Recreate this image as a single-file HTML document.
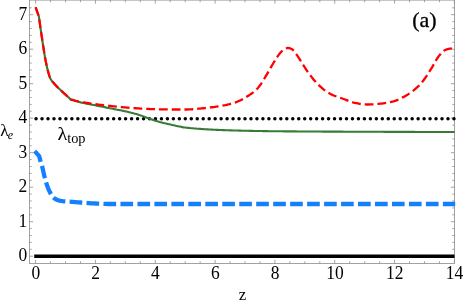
<!DOCTYPE html>
<html><head><meta charset="utf-8"><style>
html,body{margin:0;padding:0;background:#fff;}
svg{display:block;}
text{font-family:"Liberation Serif",serif;fill:#000;}
</style></head><body>
<svg style="will-change:transform" width="463" height="304" viewBox="0 0 463 304">
<rect width="463" height="304" fill="#fff"/>
<g stroke="#8c8c8c" stroke-width="0.8" fill="none">
<rect x="29.5" y="0.1" width="425.0" height="263.4"/>
<path d="M35.60,263.5 v-3.6 M35.60,0.1 v3.6"/>
<path d="M50.56,263.5 v-2.2 M50.56,0.1 v2.2"/>
<path d="M65.51,263.5 v-2.2 M65.51,0.1 v2.2"/>
<path d="M80.47,263.5 v-2.2 M80.47,0.1 v2.2"/>
<path d="M95.43,263.5 v-3.6 M95.43,0.1 v3.6"/>
<path d="M110.39,263.5 v-2.2 M110.39,0.1 v2.2"/>
<path d="M125.34,263.5 v-2.2 M125.34,0.1 v2.2"/>
<path d="M140.30,263.5 v-2.2 M140.30,0.1 v2.2"/>
<path d="M155.26,263.5 v-3.6 M155.26,0.1 v3.6"/>
<path d="M170.21,263.5 v-2.2 M170.21,0.1 v2.2"/>
<path d="M185.17,263.5 v-2.2 M185.17,0.1 v2.2"/>
<path d="M200.13,263.5 v-2.2 M200.13,0.1 v2.2"/>
<path d="M215.09,263.5 v-3.6 M215.09,0.1 v3.6"/>
<path d="M230.04,263.5 v-2.2 M230.04,0.1 v2.2"/>
<path d="M245.00,263.5 v-2.2 M245.00,0.1 v2.2"/>
<path d="M259.96,263.5 v-2.2 M259.96,0.1 v2.2"/>
<path d="M274.91,263.5 v-3.6 M274.91,0.1 v3.6"/>
<path d="M289.87,263.5 v-2.2 M289.87,0.1 v2.2"/>
<path d="M304.83,263.5 v-2.2 M304.83,0.1 v2.2"/>
<path d="M319.79,263.5 v-2.2 M319.79,0.1 v2.2"/>
<path d="M334.74,263.5 v-3.6 M334.74,0.1 v3.6"/>
<path d="M349.70,263.5 v-2.2 M349.70,0.1 v2.2"/>
<path d="M364.66,263.5 v-2.2 M364.66,0.1 v2.2"/>
<path d="M379.61,263.5 v-2.2 M379.61,0.1 v2.2"/>
<path d="M394.57,263.5 v-3.6 M394.57,0.1 v3.6"/>
<path d="M409.53,263.5 v-2.2 M409.53,0.1 v2.2"/>
<path d="M424.49,263.5 v-2.2 M424.49,0.1 v2.2"/>
<path d="M439.44,263.5 v-2.2 M439.44,0.1 v2.2"/>
<path d="M454.40,263.5 v-3.6 M454.40,0.1 v3.6"/>
<path d="M29.5,256.20 h3.6 M454.5,256.20 h-3.6"/>
<path d="M29.5,249.30 h2.2 M454.5,249.30 h-2.2"/>
<path d="M29.5,242.40 h2.2 M454.5,242.40 h-2.2"/>
<path d="M29.5,235.50 h2.2 M454.5,235.50 h-2.2"/>
<path d="M29.5,228.60 h2.2 M454.5,228.60 h-2.2"/>
<path d="M29.5,221.70 h3.6 M454.5,221.70 h-3.6"/>
<path d="M29.5,214.80 h2.2 M454.5,214.80 h-2.2"/>
<path d="M29.5,207.90 h2.2 M454.5,207.90 h-2.2"/>
<path d="M29.5,201.00 h2.2 M454.5,201.00 h-2.2"/>
<path d="M29.5,194.10 h2.2 M454.5,194.10 h-2.2"/>
<path d="M29.5,187.20 h3.6 M454.5,187.20 h-3.6"/>
<path d="M29.5,180.30 h2.2 M454.5,180.30 h-2.2"/>
<path d="M29.5,173.40 h2.2 M454.5,173.40 h-2.2"/>
<path d="M29.5,166.50 h2.2 M454.5,166.50 h-2.2"/>
<path d="M29.5,159.60 h2.2 M454.5,159.60 h-2.2"/>
<path d="M29.5,152.70 h3.6 M454.5,152.70 h-3.6"/>
<path d="M29.5,145.80 h2.2 M454.5,145.80 h-2.2"/>
<path d="M29.5,138.90 h2.2 M454.5,138.90 h-2.2"/>
<path d="M29.5,132.00 h2.2 M454.5,132.00 h-2.2"/>
<path d="M29.5,125.10 h2.2 M454.5,125.10 h-2.2"/>
<path d="M29.5,118.20 h3.6 M454.5,118.20 h-3.6"/>
<path d="M29.5,111.30 h2.2 M454.5,111.30 h-2.2"/>
<path d="M29.5,104.40 h2.2 M454.5,104.40 h-2.2"/>
<path d="M29.5,97.50 h2.2 M454.5,97.50 h-2.2"/>
<path d="M29.5,90.60 h2.2 M454.5,90.60 h-2.2"/>
<path d="M29.5,83.70 h3.6 M454.5,83.70 h-3.6"/>
<path d="M29.5,76.80 h2.2 M454.5,76.80 h-2.2"/>
<path d="M29.5,69.90 h2.2 M454.5,69.90 h-2.2"/>
<path d="M29.5,63.00 h2.2 M454.5,63.00 h-2.2"/>
<path d="M29.5,56.10 h2.2 M454.5,56.10 h-2.2"/>
<path d="M29.5,49.20 h3.6 M454.5,49.20 h-3.6"/>
<path d="M29.5,42.30 h2.2 M454.5,42.30 h-2.2"/>
<path d="M29.5,35.40 h2.2 M454.5,35.40 h-2.2"/>
<path d="M29.5,28.50 h2.2 M454.5,28.50 h-2.2"/>
<path d="M29.5,21.60 h2.2 M454.5,21.60 h-2.2"/>
<path d="M29.5,14.70 h3.6 M454.5,14.70 h-3.6"/>
<path d="M29.5,7.80 h2.2 M454.5,7.80 h-2.2"/>
</g>
<g fill="none" stroke-linejoin="round">
<path d="M34.2,256.2 H454.5" stroke="#000" stroke-width="3.6"/>
<path d="M34.70,151.10 L39.20,156.20 L39.57,157.65 L39.95,159.10 L40.34,160.55 L40.74,161.99 L41.18,163.43 L41.63,164.86 L42.07,166.29 L42.46,167.74 L42.81,169.19 L43.13,170.66 L43.44,172.13 L43.75,173.59 L44.09,175.05 L44.45,176.51 L44.83,177.96 L45.21,179.41 L45.61,180.86 L46.04,182.30 L46.49,183.72 L46.97,185.14 L47.48,186.55 L48.02,187.97 L48.60,189.36 L49.21,190.74 L49.87,192.08 L50.57,193.38 L51.34,194.70 L52.20,196.01 L53.14,197.21 L54.17,198.19 L55.37,198.97 L56.74,199.66 L58.20,200.21 L59.64,200.58 L61.10,200.86 L62.59,201.08 L64.09,201.26 L65.59,201.41 L67.08,201.53 L68.58,201.62 L70.07,201.72 L71.57,201.83 L73.06,201.94 L74.56,202.05 L76.05,202.17 L77.55,202.29 L79.04,202.40 L80.54,202.51 L82.03,202.62 L83.53,202.73 L85.02,202.84 L86.51,202.96 L88.01,203.07 L89.51,203.17 L91.00,203.28 L92.50,203.37 L93.99,203.45 L95.49,203.52 L96.99,203.59 L98.48,203.66 L99.98,203.73 L101.48,203.79 L102.98,203.85 L104.48,203.90 L105.97,203.95 L107.47,203.98 L108.97,204.00 L110.47,204.00 L111.97,204.00 L113.47,204.00 L114.96,204.00 L116.46,204.00 L117.96,204.00 L119.46,204.00 L120.96,204.00 L122.46,204.00 L123.96,204.00 L125.45,204.00 L126.95,204.00 L128.45,204.00 L129.95,204.00 L131.45,204.00 L132.95,204.00 L134.45,204.00 L135.95,204.00 L137.44,204.00 L138.94,204.00 L140.44,204.00 L141.94,204.00 L143.44,204.00 L144.94,204.00 L146.44,204.00 L147.94,204.00 L149.43,204.00 L150.93,204.00 L152.43,204.00 L153.93,204.00 L155.43,204.00 L156.93,204.00 L158.43,204.00 L159.93,204.00 L161.43,204.00 L162.93,204.00 L164.42,204.00 L165.92,204.00 L167.42,204.00 L168.92,204.00 L170.42,204.00 L171.92,204.00 L173.42,204.00 L174.92,204.00 L176.42,204.00 L177.92,204.00 L179.41,204.00 L180.91,204.00 L182.41,204.00 L183.91,204.00 L185.41,204.00 L186.91,204.00 L188.41,204.00 L189.91,204.00 L191.41,204.00 L192.91,204.00 L194.40,204.00 L195.90,204.00 L197.40,204.00 L198.90,204.00 L200.40,204.00 L201.90,204.00 L203.40,204.00 L204.90,204.00 L206.39,204.00 L207.89,204.00 L209.39,204.00 L210.89,204.00 L212.39,204.00 L213.89,204.00 L215.39,204.00 L216.89,204.00 L218.39,204.00 L219.88,204.00 L221.38,204.00 L222.88,204.00 L224.38,204.00 L225.88,204.00 L227.38,204.00 L228.88,204.00 L230.38,204.00 L231.87,204.00 L233.37,204.00 L234.87,204.00 L236.37,204.00 L237.87,204.00 L239.37,204.00 L240.87,204.00 L242.37,204.00 L243.87,204.00 L245.36,204.00 L246.86,204.00 L248.36,204.00 L249.86,204.00 L251.36,204.00 L252.86,204.00 L254.36,204.00 L255.86,204.00 L257.35,204.00 L258.85,204.00 L260.35,204.00 L261.85,204.00 L263.35,204.00 L264.85,204.00 L266.35,204.00 L267.85,204.00 L269.35,204.00 L270.84,204.00 L272.34,204.00 L273.84,204.00 L275.34,204.00 L276.84,204.00 L278.34,204.00 L279.84,204.00 L281.34,204.00 L282.83,204.00 L284.33,204.00 L285.83,204.00 L287.33,204.00 L288.83,204.00 L290.33,204.00 L291.83,204.00 L293.33,204.00 L294.83,204.00 L296.32,204.00 L297.82,204.00 L299.32,204.00 L300.82,204.00 L302.32,204.00 L303.82,204.00 L305.32,204.00 L306.82,204.00 L308.31,204.00 L309.81,204.00 L311.31,204.00 L312.81,204.00 L314.31,204.00 L315.81,204.00 L317.31,204.00 L318.81,204.00 L320.31,204.00 L321.80,204.00 L323.30,204.00 L324.80,204.00 L326.30,204.00 L327.80,204.00 L329.30,204.00 L330.80,204.00 L332.30,204.00 L333.79,204.00 L335.29,204.00 L336.79,204.00 L338.29,204.00 L339.79,204.00 L341.29,204.00 L342.79,204.00 L344.29,204.00 L345.79,204.00 L347.28,204.00 L348.78,204.00 L350.28,204.00 L351.78,204.00 L353.28,204.00 L354.78,204.00 L356.28,204.00 L357.78,204.00 L359.28,204.00 L360.77,204.00 L362.27,204.00 L363.77,204.00 L365.27,204.00 L366.77,204.00 L368.27,204.00 L369.77,204.00 L371.27,204.00 L372.76,204.00 L374.26,204.00 L375.76,204.00 L377.26,204.00 L378.76,204.00 L380.26,204.00 L381.76,204.00 L383.26,204.00 L384.76,204.00 L386.25,204.00 L387.75,204.00 L389.25,204.00 L390.75,204.00 L392.25,204.00 L393.75,204.00 L395.25,204.00 L396.75,204.00 L398.24,204.00 L399.74,204.00 L401.24,204.00 L402.74,204.00 L404.24,204.00 L405.74,204.00 L407.24,204.00 L408.74,204.00 L410.24,204.00 L411.73,204.00 L413.23,204.00 L414.73,204.00 L416.23,204.00 L417.73,204.00 L419.23,204.00 L420.73,204.00 L422.23,204.00 L423.72,204.00 L425.22,204.00 L426.72,204.00 L428.22,204.00 L429.72,204.00 L431.22,204.00 L432.72,204.00 L434.22,204.00 L435.72,204.00 L437.21,204.00 L438.71,204.00 L440.21,204.00 L441.71,204.00 L443.21,204.00 L444.71,204.00 L446.21,204.00 L447.71,204.00 L449.20,204.00 L450.70,204.00 L452.20,204.00 L453.70,204.00 L455.20,204.00" stroke="#1580ff" stroke-width="4.3" stroke-dasharray="12.67 4.3"/>
<path d="M36.05,118.8 H455.5" stroke="#000" stroke-width="3.5" stroke-linecap="round" stroke-dasharray="0 5.97"/>
<path d="M35.60,7.25 L38.90,16.50 L39.10,17.98 L39.30,19.45 L39.50,20.93 L39.70,22.40 L39.91,23.88 L40.12,25.35 L40.32,26.82 L40.53,28.30 L40.75,29.77 L40.96,31.24 L41.18,32.72 L41.40,34.19 L41.62,35.66 L41.84,37.13 L42.07,38.60 L42.29,40.08 L42.51,41.55 L42.73,43.02 L42.95,44.50 L43.18,45.97 L43.40,47.44 L43.63,48.91 L43.86,50.38 L44.09,51.86 L44.33,53.32 L44.57,54.79 L44.82,56.26 L45.08,57.73 L45.35,59.19 L45.62,60.65 L45.91,62.11 L46.21,63.57 L46.52,65.03 L46.85,66.48 L47.19,67.93 L47.56,69.37 L47.92,70.83 L48.30,72.30 L48.70,73.77 L49.14,75.21 L49.61,76.61 L50.15,77.97 L50.76,79.25 L51.54,80.48 L52.47,81.67 L53.47,82.82 L54.49,83.94 L55.48,85.05 L56.51,86.12 L57.56,87.18 L58.63,88.21 L59.71,89.25 L60.79,90.28 L61.87,91.30 L62.96,92.31 L64.05,93.32 L65.15,94.32 L66.25,95.33 L67.35,96.34 L68.44,97.35 L69.52,98.37 L70.60,99.40 L72.02,99.87 L73.45,100.33 L74.89,100.77 L76.32,101.19 L77.76,101.60 L79.21,101.99 L80.65,102.36 L82.11,102.70 L83.57,103.02 L85.03,103.33 L86.50,103.62 L87.97,103.90 L89.44,104.18 L90.92,104.45 L92.39,104.73 L93.86,105.02 L95.32,105.31 L96.79,105.61 L98.26,105.90 L99.73,106.20 L101.20,106.49 L102.66,106.78 L104.13,107.08 L105.60,107.37 L107.07,107.66 L108.53,107.96 L110.00,108.25 L111.47,108.54 L112.94,108.84 L114.41,109.13 L115.88,109.41 L117.35,109.69 L118.82,109.98 L120.29,110.27 L121.75,110.56 L123.22,110.86 L124.68,111.18 L126.14,111.51 L127.60,111.84 L129.06,112.18 L130.52,112.54 L131.97,112.90 L133.42,113.27 L134.87,113.66 L136.31,114.06 L137.74,114.47 L139.17,114.91 L140.59,115.38 L142.00,115.87 L143.41,116.37 L144.82,116.88 L146.23,117.40 L147.64,117.91 L149.05,118.42 L150.46,118.91 L151.87,119.41 L153.28,119.92 L154.69,120.43 L156.11,120.91 L157.53,121.36 L158.97,121.78 L160.41,122.17 L161.86,122.55 L163.31,122.91 L164.77,123.26 L166.22,123.60 L167.69,123.94 L169.15,124.26 L170.61,124.59 L172.07,124.91 L173.54,125.23 L175.00,125.56 L176.46,125.90 L177.93,126.22 L179.39,126.54 L180.86,126.84 L182.33,127.11 L183.81,127.34 L185.28,127.53 L186.76,127.71 L188.25,127.87 L189.73,128.02 L191.22,128.17 L192.71,128.31 L194.20,128.44 L195.70,128.57 L197.19,128.68 L198.69,128.80 L200.18,128.90 L201.68,129.01 L203.17,129.10 L204.67,129.20 L206.17,129.29 L207.66,129.37 L209.16,129.45 L210.65,129.53 L212.15,129.61 L213.64,129.69 L215.14,129.76 L216.63,129.83 L218.13,129.90 L219.62,129.96 L221.12,130.03 L222.61,130.09 L224.11,130.15 L225.60,130.20 L227.10,130.26 L228.60,130.31 L230.09,130.36 L231.59,130.40 L233.09,130.45 L234.58,130.49 L236.08,130.53 L237.57,130.57 L239.07,130.60 L240.57,130.64 L242.06,130.68 L243.56,130.71 L245.06,130.75 L246.55,130.78 L248.05,130.82 L249.54,130.85 L251.04,130.88 L252.54,130.91 L254.03,130.94 L255.53,130.97 L257.03,131.00 L258.52,131.02 L260.02,131.05 L261.52,131.07 L263.01,131.10 L264.51,131.12 L266.01,131.14 L267.50,131.16 L269.00,131.18 L270.50,131.20 L271.99,131.22 L273.49,131.23 L274.99,131.25 L276.48,131.26 L277.98,131.28 L279.48,131.29 L280.97,131.30 L282.47,131.32 L283.97,131.33 L285.46,131.34 L286.96,131.36 L288.46,131.37 L289.95,131.38 L291.45,131.39 L292.95,131.40 L294.44,131.41 L295.94,131.42 L297.44,131.43 L298.93,131.44 L300.43,131.45 L301.93,131.46 L303.43,131.47 L304.92,131.48 L306.42,131.49 L307.92,131.50 L309.41,131.51 L310.91,131.52 L312.41,131.53 L313.90,131.54 L315.40,131.54 L316.90,131.55 L318.39,131.56 L319.89,131.57 L321.39,131.57 L322.88,131.58 L324.38,131.59 L325.88,131.60 L327.37,131.60 L328.87,131.61 L330.37,131.62 L331.86,131.62 L333.36,131.63 L334.86,131.64 L336.35,131.64 L337.85,131.65 L339.35,131.66 L340.85,131.66 L342.34,131.67 L343.84,131.68 L345.34,131.68 L346.83,131.69 L348.33,131.69 L349.83,131.70 L351.32,131.71 L352.82,131.71 L354.32,131.72 L355.81,131.72 L357.31,131.73 L358.81,131.73 L360.30,131.74 L361.80,131.75 L363.30,131.75 L364.79,131.76 L366.29,131.76 L367.79,131.77 L369.28,131.77 L370.78,131.78 L372.28,131.79 L373.77,131.79 L375.27,131.80 L376.77,131.80 L378.26,131.81 L379.76,131.81 L381.26,131.82 L382.75,131.82 L384.25,131.83 L385.75,131.83 L387.24,131.84 L388.74,131.84 L390.24,131.85 L391.74,131.85 L393.23,131.86 L394.73,131.86 L396.23,131.87 L397.72,131.87 L399.22,131.88 L400.72,131.88 L402.21,131.89 L403.71,131.89 L405.21,131.90 L406.70,131.90 L408.20,131.91 L409.70,131.91 L411.19,131.91 L412.69,131.92 L414.19,131.92 L415.68,131.93 L417.18,131.93 L418.68,131.93 L420.17,131.94 L421.67,131.94 L423.17,131.95 L424.66,131.95 L426.16,131.95 L427.66,131.96 L429.15,131.96 L430.65,131.96 L432.15,131.96 L433.65,131.97 L435.14,131.97 L436.64,131.97 L438.14,131.98 L439.63,131.98 L441.13,131.98 L442.63,131.98 L444.12,131.99 L445.62,131.99 L447.12,131.99 L448.61,131.99 L450.11,131.99 L451.61,132.00 L453.10,132.00 L454.60,132.00" stroke="#377b37" stroke-width="2.1"/>
<path d="M35.60,7.25 L38.90,16.50 L39.10,17.98 L39.30,19.45 L39.50,20.93 L39.70,22.40 L39.91,23.88 L40.12,25.35 L40.32,26.82 L40.53,28.30 L40.75,29.77 L40.96,31.24 L41.18,32.72 L41.40,34.19 L41.62,35.66 L41.84,37.13 L42.07,38.60 L42.29,40.08 L42.51,41.55 L42.73,43.02 L42.95,44.50 L43.18,45.97 L43.40,47.44 L43.63,48.91 L43.86,50.38 L44.09,51.86 L44.33,53.32 L44.57,54.79 L44.82,56.26 L45.08,57.73 L45.35,59.19 L45.62,60.65 L45.91,62.11 L46.21,63.57 L46.52,65.03 L46.85,66.48 L47.19,67.93 L47.56,69.37 L47.92,70.83 L48.30,72.30 L48.70,73.77 L49.14,75.21 L49.61,76.61 L50.15,77.97 L50.76,79.25 L51.54,80.48 L52.47,81.67 L53.47,82.82 L54.49,83.94 L55.48,85.05 L56.51,86.12 L57.56,87.18 L58.63,88.21 L59.71,89.25 L60.79,90.28 L61.87,91.30 L62.96,92.31 L64.05,93.32 L65.15,94.32 L66.25,95.33 L67.35,96.34 L68.44,97.35 L69.52,98.37 L70.60,99.40 L72.04,99.82 L73.49,100.22 L74.93,100.62 L76.39,100.99 L77.84,101.34 L79.30,101.66 L80.76,101.95 L82.23,102.22 L83.71,102.49 L85.18,102.74 L86.66,102.98 L88.14,103.21 L89.63,103.43 L91.11,103.64 L92.60,103.85 L94.08,104.05 L95.57,104.25 L97.05,104.44 L98.54,104.63 L100.02,104.82 L101.51,104.99 L103.00,105.17 L104.49,105.34 L105.97,105.50 L107.46,105.66 L108.95,105.82 L110.44,105.97 L111.93,106.12 L113.42,106.27 L114.92,106.42 L116.41,106.57 L117.90,106.71 L119.39,106.86 L120.88,107.00 L122.37,107.15 L123.86,107.29 L125.35,107.43 L126.84,107.56 L128.34,107.69 L129.83,107.82 L131.32,107.94 L132.81,108.05 L134.31,108.15 L135.80,108.25 L137.30,108.35 L138.79,108.44 L140.29,108.53 L141.78,108.62 L143.28,108.71 L144.77,108.79 L146.27,108.87 L147.76,108.94 L149.26,109.01 L150.76,109.07 L152.25,109.12 L153.75,109.17 L155.25,109.21 L156.74,109.24 L158.24,109.27 L159.74,109.31 L161.24,109.34 L162.73,109.37 L164.23,109.39 L165.73,109.42 L167.23,109.44 L168.72,109.46 L170.22,109.48 L171.72,109.49 L173.22,109.50 L174.71,109.50 L176.21,109.50 L177.71,109.50 L179.21,109.50 L180.71,109.50 L182.20,109.50 L183.70,109.50 L185.20,109.50 L186.69,109.49 L188.19,109.45 L189.68,109.39 L191.18,109.32 L192.68,109.23 L194.17,109.12 L195.67,109.00 L197.16,108.87 L198.65,108.73 L200.15,108.58 L201.64,108.42 L203.13,108.26 L204.62,108.10 L206.11,107.93 L207.60,107.76 L209.09,107.60 L210.57,107.44 L212.06,107.26 L213.55,107.08 L215.03,106.88 L216.52,106.67 L218.00,106.44 L219.49,106.21 L220.96,105.95 L222.44,105.69 L223.91,105.41 L225.37,105.13 L226.83,104.81 L228.29,104.46 L229.75,104.09 L231.20,103.68 L232.63,103.26 L234.06,102.81 L235.47,102.34 L236.88,101.82 L238.27,101.26 L239.66,100.67 L241.02,100.03 L242.36,99.37 L243.67,98.67 L244.96,97.92 L246.23,97.12 L247.49,96.29 L248.74,95.46 L249.98,94.62 L251.23,93.78 L252.48,92.94 L253.70,92.06 L254.85,91.13 L255.93,90.12 L256.97,89.03 L257.96,87.89 L258.91,86.72 L259.83,85.53 L260.70,84.33 L261.54,83.10 L262.36,81.84 L263.15,80.56 L263.93,79.27 L264.70,77.99 L265.48,76.71 L266.24,75.42 L267.00,74.12 L267.74,72.82 L268.47,71.52 L269.21,70.21 L269.95,68.91 L270.69,67.61 L271.45,66.31 L272.21,65.03 L273.00,63.75 L273.79,62.48 L274.57,61.19 L275.36,59.90 L276.16,58.62 L276.98,57.35 L277.82,56.10 L278.68,54.88 L279.59,53.70 L280.53,52.58 L281.54,51.44 L282.61,50.31 L283.78,49.39 L285.06,48.75 L286.52,48.23 L288.00,48.00 L289.49,48.21 L290.97,48.72 L292.25,49.34 L293.32,50.32 L294.29,51.55 L295.21,52.77 L296.11,53.96 L296.97,55.18 L297.81,56.42 L298.63,57.67 L299.43,58.94 L300.23,60.22 L301.04,61.49 L301.85,62.75 L302.67,64.00 L303.49,65.26 L304.30,66.52 L305.11,67.79 L305.92,69.06 L306.73,70.32 L307.56,71.57 L308.40,72.80 L309.27,74.02 L310.16,75.21 L311.08,76.39 L312.01,77.56 L312.96,78.73 L313.93,79.89 L314.92,81.03 L315.92,82.15 L316.95,83.25 L317.99,84.33 L319.05,85.37 L320.14,86.37 L321.25,87.37 L322.38,88.36 L323.55,89.34 L324.74,90.28 L325.95,91.20 L327.19,92.06 L328.44,92.86 L329.72,93.60 L331.01,94.26 L332.35,94.88 L333.71,95.47 L335.10,96.01 L336.51,96.54 L337.94,97.05 L339.37,97.54 L340.80,98.03 L342.24,98.52 L343.66,99.02 L345.07,99.53 L346.47,100.07 L347.87,100.64 L349.27,101.21 L350.68,101.73 L352.10,102.19 L353.53,102.55 L354.98,102.87 L356.45,103.19 L357.92,103.49 L359.41,103.77 L360.90,104.02 L362.39,104.23 L363.88,104.38 L365.38,104.47 L366.87,104.50 L368.36,104.48 L369.85,104.44 L371.35,104.38 L372.85,104.29 L374.35,104.20 L375.85,104.09 L377.35,103.97 L378.84,103.85 L380.32,103.72 L381.81,103.57 L383.31,103.38 L384.80,103.16 L386.29,102.91 L387.78,102.64 L389.25,102.34 L390.71,102.01 L392.15,101.67 L393.58,101.30 L394.99,100.87 L396.39,100.37 L397.79,99.81 L399.18,99.20 L400.55,98.54 L401.91,97.85 L403.24,97.13 L404.56,96.39 L405.85,95.64 L407.11,94.89 L408.37,94.11 L409.62,93.28 L410.86,92.42 L412.08,91.52 L413.29,90.59 L414.48,89.64 L415.64,88.66 L416.77,87.65 L417.87,86.63 L418.93,85.60 L419.95,84.55 L420.94,83.47 L421.89,82.35 L422.82,81.19 L423.73,80.00 L424.61,78.78 L425.48,77.54 L426.33,76.29 L427.17,75.03 L428.00,73.76 L428.82,72.49 L429.64,71.22 L430.46,69.96 L431.26,68.70 L432.03,67.40 L432.77,66.08 L433.49,64.76 L434.22,63.43 L434.95,62.10 L435.69,60.80 L436.46,59.52 L437.27,58.28 L438.13,57.08 L439.04,55.91 L440.00,54.70 L441.00,53.48 L442.06,52.32 L443.18,51.29 L444.35,50.44 L445.59,49.83 L446.98,49.30 L448.47,48.86 L449.98,48.62 L451.45,48.64 L452.92,48.87 L454.40,49.30" stroke="#ff0000" stroke-width="2.3" stroke-dasharray="8.78 3.97"/>
</g>
<g font-size="18px">
<text transform="translate(35.80,279.3) scale(0.97,1.08)" text-anchor="middle">0</text>
<text transform="translate(95.63,279.3) scale(0.97,1.08)" text-anchor="middle">2</text>
<text transform="translate(155.46,279.3) scale(0.97,1.08)" text-anchor="middle">4</text>
<text transform="translate(215.29,279.3) scale(0.97,1.08)" text-anchor="middle">6</text>
<text transform="translate(275.11,279.3) scale(0.97,1.08)" text-anchor="middle">8</text>
<text transform="translate(334.94,279.3) scale(0.97,1.08)" text-anchor="middle">10</text>
<text transform="translate(394.77,279.3) scale(0.97,1.08)" text-anchor="middle">12</text>
<text transform="translate(454.60,279.3) scale(0.97,1.08)" text-anchor="middle">14</text>
<text transform="translate(27.3,261.20) scale(0.97,1.06)" text-anchor="end">0</text>
<text transform="translate(27.3,226.70) scale(0.97,1.06)" text-anchor="end">1</text>
<text transform="translate(27.3,192.20) scale(0.97,1.06)" text-anchor="end">2</text>
<text transform="translate(27.3,157.70) scale(0.97,1.06)" text-anchor="end">3</text>
<text transform="translate(27.3,123.20) scale(0.97,1.06)" text-anchor="end">4</text>
<text transform="translate(27.3,88.70) scale(0.97,1.06)" text-anchor="end">5</text>
<text transform="translate(27.3,54.20) scale(0.97,1.06)" text-anchor="end">6</text>
<text transform="translate(27.3,19.70) scale(0.97,1.06)" text-anchor="end">7</text>
<text x="242.6" y="300.1" font-size="16.8px" text-anchor="middle">z</text>
<text transform="translate(0.3,136.2) scale(1.06,1)" font-size="16.3px">λ</text>
<text x="7.8" y="138.5" font-style="italic" font-size="12px">e</text>
</g>
<text transform="translate(57.6,139.8) scale(1.1,1)" font-size="18.4px">λ</text>
<text x="67.2" y="142.6" font-size="14.3px">top</text>
<text x="412.2" y="26.8" font-size="22px" stroke="#000" stroke-width="0.3">(a)</text>
</svg>
</body></html>
